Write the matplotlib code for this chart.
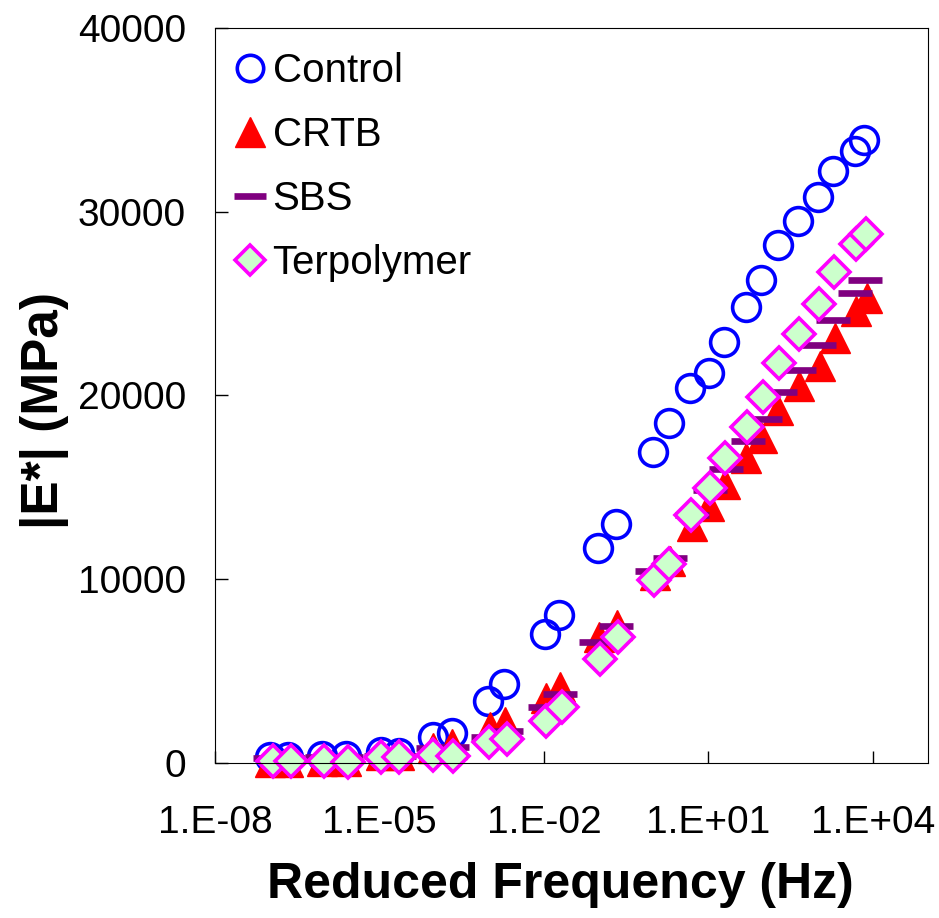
import numpy as np
import matplotlib
matplotlib.use('Agg')
import matplotlib.pyplot as plt

plt.rcParams['font.family'] = ['Liberation Sans', 'DejaVu Sans']

# log10 of reduced frequency (Hz) and |E*| (MPa)
control_logf = [-6.99, -6.66, -6.04, -5.62, -4.98, -4.65, -4.03, -3.68, -3.02, -2.73,
                -1.99, -1.72, -1.02, -0.69, -0.01, 0.28, 0.66, 1.01, 1.29, 1.69,
                1.96, 2.26, 2.64, 2.99, 3.28, 3.67, 3.83]
control_e = [300, 300, 350, 400, 600, 550, 1400, 1600, 3350, 4300,
             7000, 8050, 11700, 13000, 16900, 18500, 20400, 21200, 22900, 24800,
             26300, 28200, 29500, 30800, 32200, 33300, 33900]

crtb_logf = [-6.99, -6.66, -6.04, -5.62, -4.98, -4.65, -4.03, -3.68, -2.98, -2.71,
             -1.96, -1.70, -1.00, -0.67, 0.02, 0.30, 0.70, 1.01, 1.30, 1.69,
             1.98, 2.27, 2.66, 3.03, 3.30, 3.69, 3.90]
crtb_e = [50, 50, 100, 100, 450, 450, 800, 1030, 1950, 2200,
          3550, 4150, 6850, 7500, 10200, 11000, 12900, 14000, 15200, 16600,
          17700, 19200, 20500, 21600, 23100, 24600, 25300]

sbs_logf = [-6.99, -6.66, -6.04, -5.62, -4.98, -4.65, -4.03, -3.68, -3.02, -2.69,
            -1.99, -1.70, -1.06, -0.69, -0.03, 0.30, 0.70, 1.03, 1.32, 1.72,
            2.03, 2.31, 2.66, 3.01, 3.28, 3.67, 3.85]
sbs_e = [250, 250, 300, 300, 400, 400, 820, 870, 1400, 1720,
         3050, 3750, 6600, 7450, 10450, 11150, 13500, 14850, 16000, 17500,
         18700, 20200, 21400, 22750, 24100, 25600, 26300]

terp_logf = [-6.95, -6.62, -6.02, -5.58, -4.98, -4.65, -4.03, -3.66, -3.00, -2.67,
             -1.96, -1.68, -0.98, -0.65, 0.00, 0.28, 0.68, 1.03, 1.30, 1.71,
             2.00, 2.28, 2.66, 3.01, 3.29, 3.69, 3.87]
terp_e = [100, 100, 100, 50, 300, 300, 450, 400, 1150, 1300,
          2300, 3050, 5650, 6850, 9950, 10800, 13500, 14950, 16600, 18300,
          19900, 21750, 23350, 25000, 26700, 28250, 28800]

x_ticks = [1e-8, 1e-5, 1e-2, 1e1, 1e4]
x_ticklabels = ['1.E-08', '1.E-05', '1.E-02', '1.E+01', '1.E+04']
y_ticks = [0, 10000, 20000, 30000, 40000]

fig = plt.figure(figsize=(9.39, 9.18), dpi=100)
ax = fig.add_axes([0.229, 0.169, 0.759, 0.8005])

ax.plot(10.0 ** np.array(control_logf), control_e, 'o', ls='none', ms=20,
        mfc='none', mec='#0000FF', mew=2.6, label='Control', clip_on=False)
ax.plot(10.0 ** np.array(crtb_logf), crtb_e, '^', ls='none', ms=22,
        mfc='#FF0000', mec='#FF0000', mew=1, label='CRTB', clip_on=False)
ax.plot(10.0 ** np.array(sbs_logf), sbs_e, '_', ls='none', ms=25,
        mec='#800080', mew=4.8, label='SBS', clip_on=False)
ax.plot(10.0 ** np.array(terp_logf), terp_e, 'D', ls='none', ms=16.5,
        mfc='#CCFFCC', mec='#FF00FF', mew=2.6, label='Terpolymer', clip_on=False)

ax.set_xscale('log')
ax.set_xlim(1e-8, 1e5)
ax.set_ylim(0, 40000)
ax.set_xticks(x_ticks)
ax.set_xticklabels(x_ticklabels)
ax.xaxis.set_minor_locator(matplotlib.ticker.NullLocator())
ax.set_yticks(y_ticks)
ax.tick_params(axis='both', direction='in', length=9, width=1, labelsize=28)
ax.tick_params(axis='x', pad=30)
ax.tick_params(axis='y', pad=21)

ax.set_xlabel('Reduced Frequency (Hz)', fontsize=36, fontweight='bold')
ax.xaxis.set_label_coords(0.485, -0.135)
ax.set_ylabel('|E*| (MPa)', fontsize=37, fontweight='bold')
ax.yaxis.set_label_coords(-0.205, 0.48)

leg = ax.legend(loc='upper left', frameon=False, fontsize=29, numpoints=1,
                handlelength=0.9, handletextpad=0.12, labelspacing=0.64,
                borderaxespad=0.15, markerscale=0.95, bbox_to_anchor=(-0.008, 0.997))

fig.savefig('out.png', dpi=100)
